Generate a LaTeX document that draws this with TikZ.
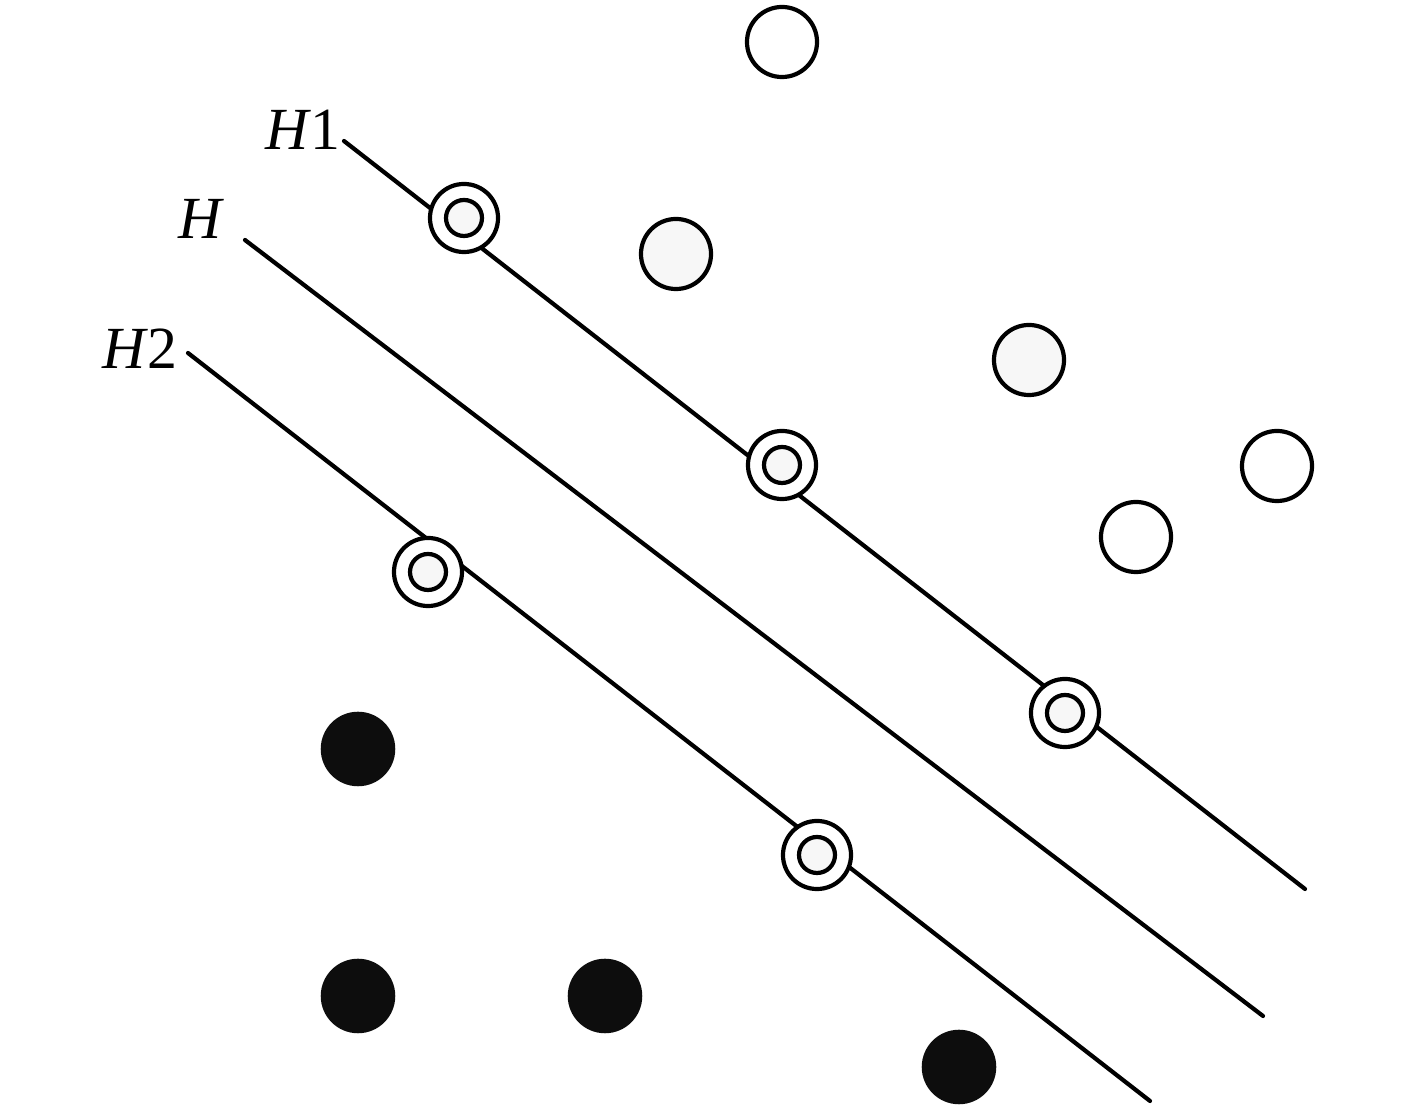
\documentclass[tikz,border=0pt]{standalone}
\usepackage{fontspec}
\setmainfont{Liberation Serif}
\begin{document}
\begin{tikzpicture}[x=0.01cm,y=-0.01cm,
  hline/.style={line width=0.042cm,line cap=round},
  opendot/.style={circle,draw,line width=0.042cm,fill=white,minimum size=0.7cm,inner sep=0pt},
  greydot/.style={circle,draw,line width=0.042cm,fill=lightfill,minimum size=0.7cm,inner sep=0pt},
  svouter/.style={circle,draw,line width=0.042cm,fill=white,minimum size=0.68cm,inner sep=0pt},
  svinner/.style={circle,draw,line width=0.042cm,fill=lightfill,minimum size=0.36cm,inner sep=0pt},
  blackdot/.style={circle,fill=darkfill,minimum size=0.745cm,inner sep=0pt},
  lbl/.style={anchor=base west,inner sep=0pt,font=\fontsize{17}{20}\selectfont}]
\definecolor{lightfill}{HTML}{F7F7F7}
\definecolor{darkfill}{HTML}{0D0D0D}
\useasboundingbox[fill=white] (0,0) rectangle (1417,1110);
% hyperplane end points
\coordinate (h1a) at (344,141);
\coordinate (h1b) at (1305,889);
\coordinate (ha) at (245,240);
\coordinate (hb) at (1263,1016);
\coordinate (h2a) at (188,353);
\coordinate (h2b) at (1150,1101);
\draw[hline] (h1a) -- (h1b);
\draw[hline] (ha) -- (hb);
\draw[hline] (h2a) -- (h2b);
% labels
\node[lbl] (lh1) at (265,150) {\textit{H}\kern-0.02em 1};
\node[lbl] (lh) at (178,239) {\textit{H}};
\node[lbl] (lh2) at (102,369) {\textit{H}\kern-0.02em 2};
% open circles
\node[opendot] (o1) at (782,42) {};
\node[opendot] (o2) at (1277,466) {};
\node[opendot] (o3) at (1136,537) {};
% grey circles
\node[greydot] (g1) at (676,254) {};
\node[greydot] (g2) at (1029,360) {};
% support vectors
\foreach \n/\x/\y in {s1/464/218, s2/782/465, s3/1065/713, s4/428/572, s5/817/855}{
  \node[svouter] (\n) at (\x,\y) {};
  \node[svinner] (\n i) at (\x,\y) {};
}
% black circles
\node[blackdot] (b1) at (358,749) {};
\node[blackdot] (b2) at (358,996) {};
\node[blackdot] (b3) at (605,996) {};
\node[blackdot] (b4) at (959,1067) {};
\end{tikzpicture}
\end{document}
